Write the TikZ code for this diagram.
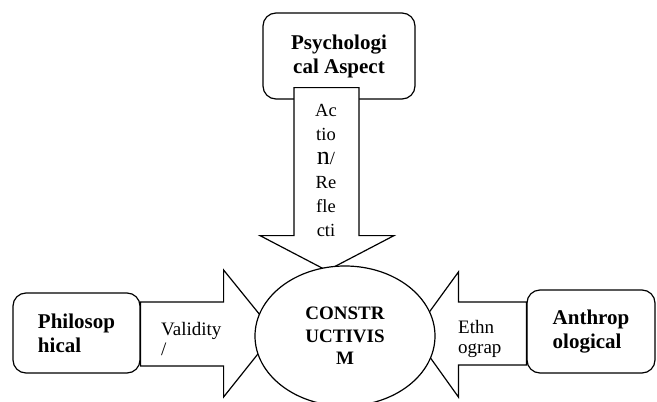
\documentclass[tikz,border=0pt]{standalone}
\usepackage{fontspec}
\setmainfont{Liberation Serif}
\usetikzlibrary{shapes.geometric}

\begin{document}
\begin{tikzpicture}[x=1pt,y=-1pt,
	roundbox/.style={rectangle, rounded corners=13pt, draw=black, line width=1.2pt, fill=white, align=left, inner sep=0pt, font=\bfseries\fontsize{21}{24}\selectfont},
	ovalnode/.style={ellipse, draw=black, line width=1.2pt, fill=white, minimum width=180pt, minimum height=140pt, inner sep=0pt, align=center, font=\bfseries\fontsize{19}{22.5}\selectfont},
	arrowshape/.style={draw=black, line width=1.2pt, fill=white, line join=miter},
	arrowtext/.style={inner sep=0pt, align=left, font=\fontsize{19}{20}\selectfont},
	]
	\useasboundingbox (0,0) rectangle (657,402);
	%Nodes
	\node[roundbox, minimum width=152pt, minimum height=86pt, align=center] (psy)  at (339,56)    {Psychologi\\cal Aspect};
	\node[roundbox, minimum width=127pt, minimum height=80pt]               (phil) at (76.5,333)  {Philosop\\hical};
	\node[roundbox, minimum width=128pt, minimum height=83pt]               (anth) at (591,331.5) {Anthrop\\ological};
	
	%Arrows
	\draw[arrowshape] ([xshift=-45pt,yshift=12pt]psy.south) -- ++(65,0) -- ++(0,148) -- ++(35,0) -- ++(-67,35) -- ++(-67,-35) -- ++(34,0) -- cycle;
	\draw[arrowshape] ([yshift=31pt]phil.east) -- ++(83,0) -- ++(0,-32) -- ++(51,63) -- ++(-51,64) -- ++(0,-31) -- ++(-83,0) -- cycle;
	\draw[arrowshape] ([yshift=29.5pt]anth.west) -- ++(-68,0) -- ++(0,-30) -- ++(-45,62) -- ++(45,63) -- ++(0,-32) -- ++(68,0) -- cycle;
	
	\node[ovalnode] (cons) at (345,336) {CONSTR\\UCTIVIS\\M};
	
	%Labels
	\node[arrowtext, align=center, anchor=north, font=\fontsize{18.5}{24}\selectfont] (action) at (326,104) {Ac\\tio\\{\fontsize{26}{26}\selectfont n}/\\Re\\fle\\cti};
	\node[arrowtext, anchor=north west] (valid) at (161,322) {Validity\\/};
	\node[arrowtext, anchor=north west] (ethno) at (458,320) {Ethn\\ograp};
\end{tikzpicture}
\end{document}
